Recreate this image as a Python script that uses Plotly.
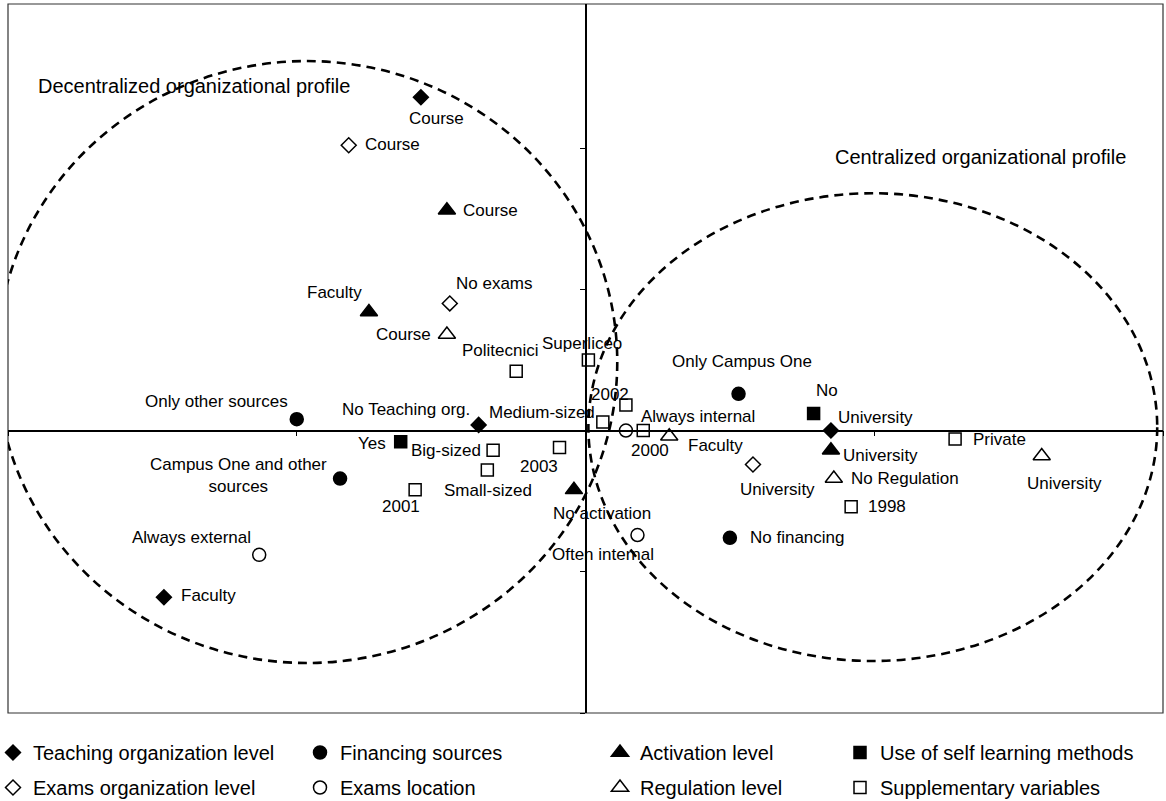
import plotly.graph_objects as go

# ---------------- data (factor-plane coordinates) ----------------
teach_labels = ["Course", "No Teaching org.", "University", "Faculty"]
teach_x = [-0.57, -0.37, 0.85, -1.46]
teach_y = [1.18, 0.02, 0.00, -0.59]

examorg_labels = ["Course", "No exams", "University"]
examorg_x = [-0.82, -0.47, 0.58]
examorg_y = [1.01, 0.45, -0.12]

fin_labels = ["Only other sources", "Campus One and other<br>sources", "Only Campus One", "No financing"]
fin_x = [-1.00, -0.85, 0.53, 0.50]
fin_y = [0.04, -0.17, 0.13, -0.38]

examloc_labels = ["Always external", "Always internal", "Often internal"]
examloc_x = [-1.13, 0.14, 0.18]
examloc_y = [-0.44, 0.00, -0.37]

act_labels = ["Course", "Faculty", "University", "No activation"]
act_x = [-0.48, -0.75, 0.85, -0.04]
act_y = [0.78, 0.42, -0.07, -0.21]

reg_labels = ["Course", "Faculty", "No Regulation", "University"]
reg_x = [-0.48, 0.29, 0.86, 1.58]
reg_y = [0.34, -0.02, -0.17, -0.09]

self_labels = ["No", "Yes"]
self_x = [0.79, -0.64]
self_y = [0.06, -0.04]

supp_labels = ["Superliceo", "Politecnici", "2002", "Medium-sized", "2000", "Big-sized",
               "Small-sized", "2003", "2001", "Private", "1998"]
supp_x = [0.01, -0.24, 0.14, 0.06, 0.20, -0.32, -0.34, -0.09, -0.59, 1.28, 0.92]
supp_y = [0.25, 0.21, 0.09, 0.03, 0.00, -0.07, -0.14, -0.06, -0.21, -0.03, -0.27]

# profile ellipses (x0, x1, y0, y1) in factor-plane units
decentral_box = [-2.04, 0.11, -0.823, 1.308]
central_box = [0.01, 1.98, -0.816, 0.840]

# ---------------- label placement (anchor, dx px, dy px) ----------------
teach_pos = [("center", 16, -21), ("right", -8, 15), ("left", 6, 13), ("left", 16, 2)]
examorg_pos = [("left", 15, 1), ("center", 45, 20), ("center", 25, -25)]
fin_pos = [("center", -80, 18), ("center", -102, 3), ("center", 3, 32), ("left", 19, 0)]
examloc_pos = [("center", -68, 17), ("center", 72, 14), ("center", -34, -19)]
act_pos = [("left", 15, 0), ("center", -34, 19), ("left", 11, -5), ("center", 28, -24)]
reg_pos = [("right", -15, 0), ("left", 18, -9), ("left", 16, 0), ("center", 23, -28)]
self_pos = [("center", 13, 23), ("right", -14, -2)]
supp_pos = [("center", -6, 16), ("center", -16, 21), ("center", -16, 11), ("right", -7, 10),
            ("center", 7, -20), ("right", -11, 0), ("center", 1, -20), ("center", -21, -19),
            ("center", -14, -17), ("left", 17, 0), ("left", 16, 0)]

FONT = "Liberation Sans, Arial, sans-serif"
XR = [-2.0, 2.0]
YR = [-1.0, 1.51]

groups = [
    ("Teaching organization level", teach_x, teach_y, teach_labels, teach_pos, "diamond", "black", 11.5, "legend"),
    ("Exams organization level", examorg_x, examorg_y, examorg_labels, examorg_pos, "diamond", "white", 11.5, "legend"),
    ("Financing sources", fin_x, fin_y, fin_labels, fin_pos, "circle", "black", 13, "legend2"),
    ("Exams location", examloc_x, examloc_y, examloc_labels, examloc_pos, "circle", "white", 13, "legend2"),
    ("Activation level", act_x, act_y, act_labels, act_pos, "triangle-up", "black", 15, "legend3"),
    ("Regulation level", reg_x, reg_y, reg_labels, reg_pos, "triangle-up", "white", 15, "legend3"),
    ("Use of self learning methods", self_x, self_y, self_labels, self_pos, "square", "black", 12, "legend4"),
    ("Supplementary variables", supp_x, supp_y, supp_labels, supp_pos, "square", "white", 12, "legend4"),
]

fig = go.Figure()
annotations = []
for i, (name, xs, ys, labels, pos, sym, fill, size, leg) in enumerate(groups):
    fig.add_trace(go.Scatter(
        x=xs, y=ys, mode="markers", name=name, legend=leg, legendgroup=f"g{i}",
        marker=dict(symbol=sym, color=fill, size=size, line=dict(color="black", width=1.5)),
        hoverinfo="skip", cliponaxis=False,
    ))
    for x, y, lab, (anc, dx, dy) in zip(xs, ys, labels, pos):
        annotations.append(dict(
            x=x, y=y, xref="x", yref="y", text=lab, showarrow=False,
            xanchor=anc, yanchor="middle", xshift=dx, yshift=dy,
            font=dict(family=FONT, size=17, color="black"), borderpad=0,
        ))

annotations.append(dict(x=-1.898, y=1.22, xref="x", yref="y", text="Decentralized organizational profile",
                        showarrow=False, xanchor="left", yanchor="middle",
                        font=dict(family=FONT, size=20, color="black"), borderpad=0))
annotations.append(dict(x=0.862, y=0.968, xref="x", yref="y", text="Centralized organizational profile",
                        showarrow=False, xanchor="left", yanchor="middle",
                        font=dict(family=FONT, size=20, color="black"), borderpad=0))

shapes = [
    dict(type="rect", xref="paper", yref="paper", x0=0, x1=1, y0=0, y1=1,
         line=dict(color="#333333", width=1.2), layer="below"),
]
for box in (decentral_box, central_box):
    shapes.append(dict(type="circle", xref="x", yref="y", x0=box[0], x1=box[1], y0=box[2], y1=box[3],
                       line=dict(color="black", width=2.6, dash="9px,6px"), layer="below"))

W, H = 1166, 801
ML, MR, MT, MB = 8, 3, 4, 88
pw = W - ML - MR
ph = H - MT - MB

def legx(text_left_px):
    return (text_left_px - 40 - ML) / pw

leg_y = (H - MB - 733) / ph
legend_common = dict(orientation="v", yanchor="top", xanchor="left", y=leg_y,
                     font=dict(family=FONT, size=20, color="black"),
                     bgcolor="rgba(0,0,0,0)", tracegroupgap=6, itemclick=False)

fig.update_layout(
    width=W, height=H,
    margin=dict(l=ML, r=MR, t=MT, b=MB, autoexpand=False),
    paper_bgcolor="white", plot_bgcolor="white",
    showlegend=True,
    legend=dict(x=legx(33), **legend_common),
    legend2=dict(x=legx(340), **legend_common),
    legend3=dict(x=legx(640), **legend_common),
    legend4=dict(x=legx(880), **legend_common),
    xaxis=dict(range=XR, anchor="free", position=(0 - YR[0]) / (YR[1] - YR[0]),
               showline=True, linecolor="black", linewidth=1.5,
               ticks="outside", ticklen=5, tickwidth=1, tickcolor="black",
               tickvals=[-2, -1, 1, 2], showticklabels=False,
               showgrid=False, zeroline=False, fixedrange=True),
    yaxis=dict(range=YR, anchor="free", position=(0 - XR[0]) / (XR[1] - XR[0]),
               showline=True, linecolor="black", linewidth=1.5,
               ticks="outside", ticklen=5, tickwidth=1, tickcolor="black",
               tickvals=[-1, -0.5, 0.5, 1.0], showticklabels=False,
               showgrid=False, zeroline=False, fixedrange=True),
    annotations=annotations,
    shapes=shapes,
)

fig.write_html(
    "out.html",
    config={"displayModeBar": False},
    post_script="document.body.style.margin='0';document.body.style.padding='0';",
)
